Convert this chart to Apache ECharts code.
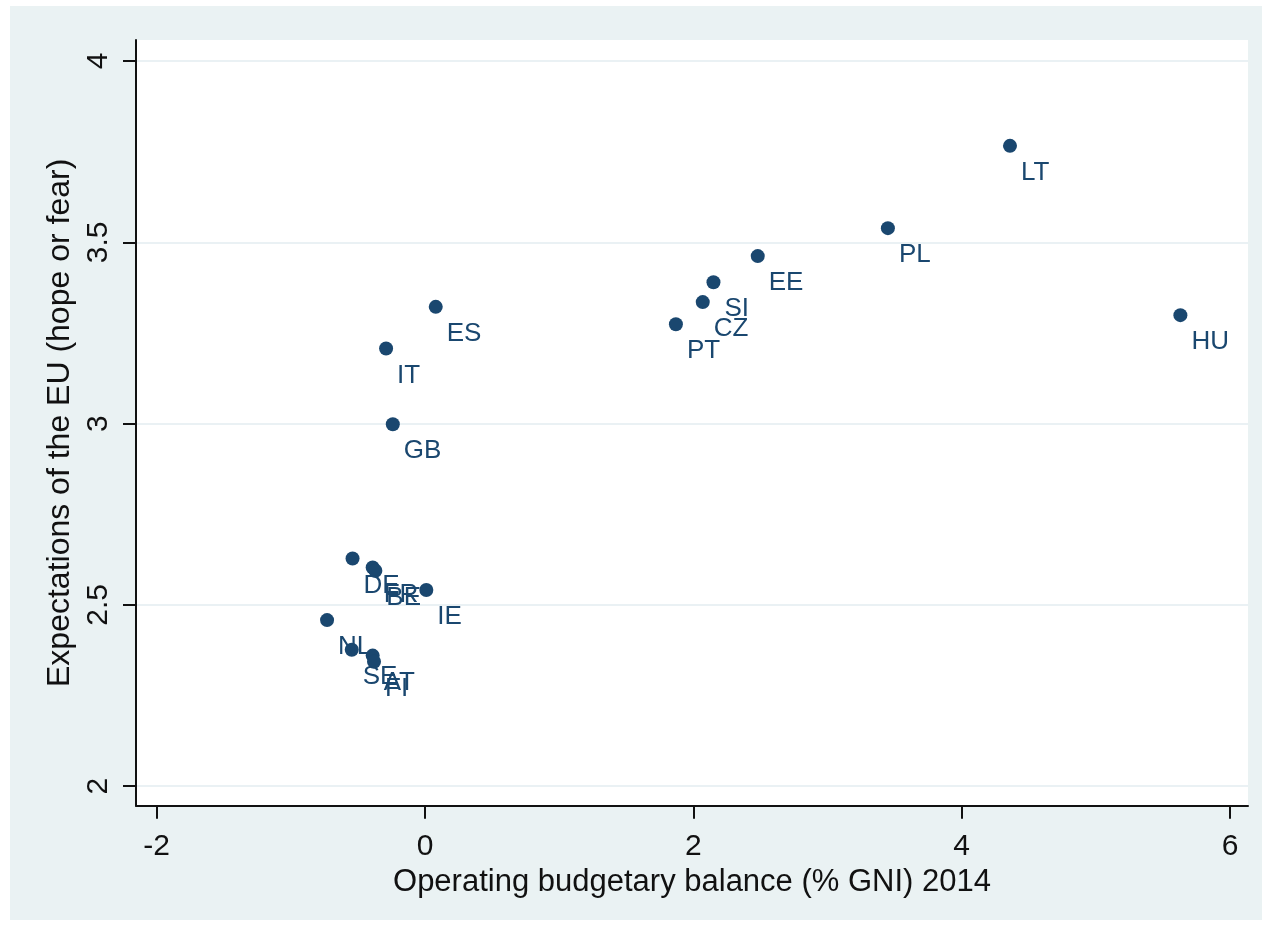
<!DOCTYPE html>
<html>
<head>
<meta charset="utf-8">
<script src="https://cdn.jsdelivr.net/npm/echarts@6/dist/echarts.min.js"></script>
<style>
  html, body { margin: 0; padding: 0; background: #ffffff; width: 1267px; height: 925px; overflow: hidden; }
  #chart { position: absolute; left: 10px; top: 6px; width: 1252px; height: 914px; }
</style>
</head>
<body>
<div id="chart"></div>
<script>
// Country codes with operating budgetary balance (% GNI, 2014) and mean EU expectation score
const countries = ['LT', 'PL', 'EE', 'SI', 'CZ', 'PT', 'HU', 'ES', 'IT', 'GB',
                   'DE', 'FR', 'BE', 'IE', 'NL', 'SE', 'AT', 'FI'];
const budgetBalance = [4.36, 3.45, 2.48, 2.15, 2.07, 1.87, 5.63, 0.08, -0.29, -0.24,
                       -0.54, -0.39, -0.37, 0.01, -0.73, -0.546, -0.39, -0.38];
const expectations = [3.766, 3.539, 3.462, 3.390, 3.335, 3.274, 3.299, 3.322, 3.207, 2.998,
                      2.628, 2.603, 2.594, 2.541, 2.458, 2.376, 2.360, 2.343];

const xTicks = [-2, 0, 2, 4, 6];
const yTicks = [2, 2.5, 3, 3.5, 4];

const xTitle = 'Operating budgetary balance (% GNI) 2014';
const yTitle = 'Expectations of the EU (hope or fear)';

const FONT = '"Liberation Sans", Arial, sans-serif';
const NAVY = '#1a476f';
const INK = '#111111';

const points = countries.map((c, i) => ({ name: c, value: [budgetBalance[i], expectations[i]] }));

const chart = echarts.init(document.getElementById('chart'), null, { renderer: 'canvas' });

chart.setOption({
  animation: false,
  backgroundColor: '#eaf2f3',
  grid: {
    left: 126, top: 34, right: 14, bottom: 114.3,
    show: true, backgroundColor: '#ffffff', borderWidth: 0
  },
  xAxis: {
    type: 'value',
    min: -2.154, max: 6.134,
    name: xTitle,
    nameLocation: 'middle',
    nameGap: 60,
    nameTextStyle: { fontFamily: FONT, fontSize: 31, color: INK },
    axisLine: { show: true, onZero: false, lineStyle: { color: INK, width: 2 } },
    axisTick: { show: true, length: 13, customValues: xTicks, lineStyle: { color: INK, width: 2 } },
    axisLabel: {
      customValues: xTicks, margin: 26,
      fontFamily: FONT, fontSize: 30, color: INK,
      formatter: v => String(v)
    },
    splitLine: { show: false }
  },
  yAxis: {
    type: 'value',
    min: 1.946, max: 4.058,
    name: yTitle,
    nameLocation: 'middle',
    nameRotate: 90,
    nameGap: 59,
    nameTextStyle: { fontFamily: FONT, fontSize: 32, color: INK },
    axisLine: { show: true, onZero: false, lineStyle: { color: INK, width: 2 } },
    axisTick: { show: true, length: 13, customValues: yTicks, lineStyle: { color: INK, width: 2 } },
    axisLabel: {
      customValues: yTicks, margin: 22, rotate: 90,
      fontFamily: FONT, fontSize: 30, color: INK,
      formatter: v => String(v)
    },
    splitLine: { show: true, lineStyle: { color: '#e3edf0', width: 1.5 } }
  },
  series: [{
    type: 'scatter',
    data: points,
    symbol: 'circle',
    symbolSize: 14,
    itemStyle: { color: NAVY, opacity: 1 },
    label: {
      show: true,
      formatter: p => p.name,
      position: 'inside',
      align: 'left',
      verticalAlign: 'middle',
      offset: [11, 27],
      fontFamily: FONT,
      fontSize: 26,
      color: NAVY
    },
    emphasis: { disabled: true }
  }]
});
</script>
</body>
</html>
